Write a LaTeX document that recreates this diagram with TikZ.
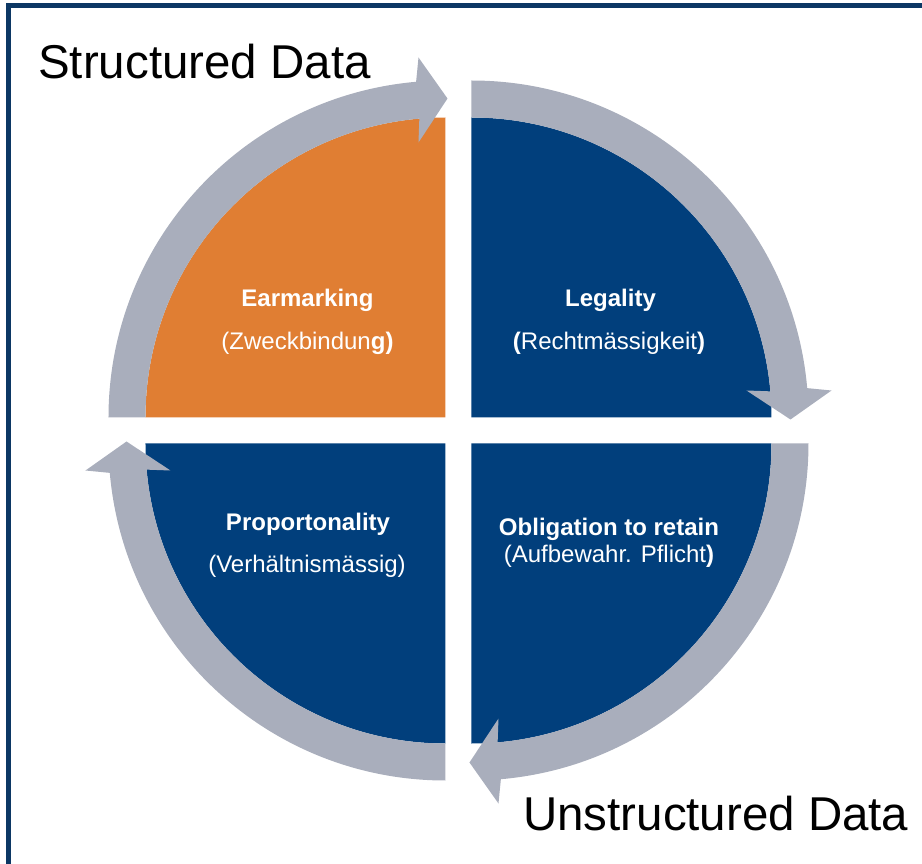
\documentclass[tikz,border=0pt]{standalone}
\usepackage{fontspec}
\setmainfont{Liberation Sans}
\usetikzlibrary{calc}
\definecolor{orangeq}{HTML}{E07E33}
\definecolor{blueq}{HTML}{013F7C}
\definecolor{ringgray}{HTML}{A9AEBC}
\definecolor{framenavy}{HTML}{0C3764}
\tikzset{
  bigtitle/.style={inner sep=0pt,anchor=base west,font=\fontsize{35.6}{40}\selectfont},
  qhead/.style={inner sep=0pt,anchor=base,text=white,font=\fontsize{18}{21}\selectfont\bfseries},
  qsub/.style={inner sep=0pt,anchor=base,text=white,font=\fontsize{18}{21}\selectfont}
}
\begin{document}
\begin{tikzpicture}[x=0.75pt,y=0.75pt,line join=miter]
    \clip (-458.5,-433.5) rectangle (463.5,430.5);
    \draw[framenavy,line width=3.75pt] (-449.5,-440)--(-449.5,425)--(470,425);
    \foreach \ang/\col in {0/orangeq,-90/blueq,-180/blueq,-270/blueq}{
        \begin{scope}[rotate=\ang,shift={(-13,13)}]
            \fill[\col] (0,0)--(180:300) arc[start angle=180,end angle=90,radius=300]--cycle;
            \fill[ringgray] (180:300)--(180:337) arc[start angle=180,end angle=95,radius=337]
                --(-27,360)--(2,319)--(-27,275)--(95:300) arc[start angle=95,end angle=180,radius=300]--cycle;
        \end{scope}
    }
    \node[bigtitle] (structured) at (-420.5,351.5) {Structured Data};
    \node[bigtitle] (unstructured) at (64.5,-399.5) {Unstructured Data};
    \node[qhead] (earmark) at (-151,123.5) {Earmarking};
    \node[qsub] (earmarkde) at (-151,81) {(Zweckbindun\textbf{g)}};
    \node[qhead] (legal) at (152,123.5) {Legality};
    \node[qsub] (legalde) at (150.5,81) {\textbf{(}Rechtmässigkeit\textbf{)}};
    \node[qhead] (proport) at (-150.5,-100.5) {Proportonality};
    \node[qsub] (proportde) at (-151.5,-141.5) {(Verhältnismässig)};
    \node[qhead] (retain) at (150.5,-105.5) {Obligation to retain};
    \node[qsub] (retainde) at (150.5,-131.5) {(Aufbewahr. Pflicht\textbf{)}};
\end{tikzpicture}
\end{document}
